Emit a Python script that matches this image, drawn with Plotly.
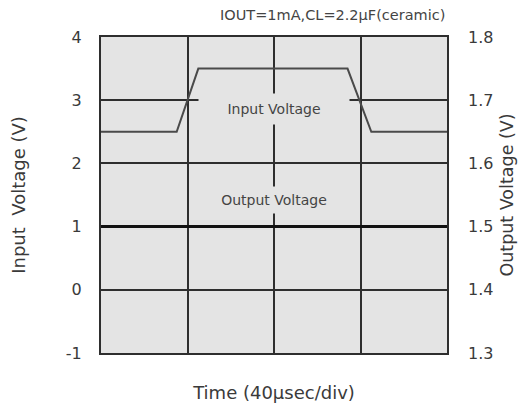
import plotly.graph_objects as go

# Data
time_in_us = [0, 35, 45, 114, 125, 160]
input_voltage = [2.5, 2.5, 3.5, 3.5, 2.5, 2.5]
time_out_us = [0, 160]
output_voltage = [1.5, 1.5]

x_ticks = [0, 40, 80, 120, 160]
y_left_ticks = [-1, 0, 1, 2, 3, 4]
y_left_labels = ["-1", "0", "1", "2", "3", "4"]
y_right_ticks = [1.3, 1.4, 1.5, 1.6, 1.7, 1.8]
y_right_labels = ["1.3", "1.4", "1.5", "1.6", "1.7", "1.8"]

FONT = "DejaVu Sans, Liberation Sans, Arial, sans-serif"
TXT = "#3a3a3a"
GRID = "#2e2e2e"
BG = "#e4e4e4"

fig = go.Figure()
fig.add_trace(go.Scatter(x=time_in_us, y=input_voltage, mode="lines",
                         line=dict(color="#4a4a4a", width=2), yaxis="y",
                         showlegend=False, hoverinfo="skip"))
fig.add_trace(go.Scatter(x=time_out_us, y=output_voltage, mode="lines",
                         line=dict(color="#111111", width=3), yaxis="y2",
                         showlegend=False, hoverinfo="skip"))

fig.update_layout(
    width=519, height=400,
    margin=dict(l=93, r=80, t=29, b=55),
    paper_bgcolor="white",
    plot_bgcolor=BG,
    font=dict(family=FONT, color=TXT, size=14),
    xaxis=dict(range=[0, 160], tickvals=x_ticks, showticklabels=False,
               showgrid=True, gridcolor=GRID, gridwidth=1.5,
               showline=True, linecolor=GRID, linewidth=2, mirror=True,
               zeroline=False, automargin=False,
               title=dict(text="Time (40\u03bcsec/div)", font=dict(size=18), standoff=32)),
    yaxis=dict(range=[-1, 4], tickvals=y_left_ticks, ticktext=y_left_labels,
               showgrid=True, gridcolor=GRID, gridwidth=1.5,
               showline=True, linecolor=GRID, linewidth=2, mirror=True,
               zeroline=False, ticklabelstandoff=14, automargin=False,
               tickfont=dict(size=16),
               title=dict(text="Input  Voltage (V)", font=dict(size=18), standoff=40)),
    yaxis2=dict(range=[1.3, 1.8], tickvals=y_right_ticks, ticktext=y_right_labels,
                overlaying="y", side="right", showgrid=False, zeroline=False,
                ticklabelstandoff=20, tickfont=dict(size=16), automargin=False,
                title=dict(text="Output Voltage (V)", font=dict(size=17.5), standoff=8)),
)

fig.add_annotation(x=80, y=2.91, xref="x", yref="y", text="Input Voltage",
                   showarrow=False, font=dict(size=14, color="#444444"),
                   bgcolor=BG, width=146, height=26, borderpad=2, yshift=-3)
fig.add_annotation(x=80, y=1.42, xref="x", yref="y", text="Output Voltage",
                   showarrow=False, font=dict(size=14, color="#444444"),
                   bgcolor=BG, width=120, height=22, borderpad=2)
fig.add_annotation(x=1, y=1, xref="paper", yref="paper", xanchor="right", yanchor="bottom",
                   yshift=12, text="IOUT=1mA,CL=2.2\u03bcF(ceramic)", showarrow=False,
                   font=dict(size=14.5, color="#444444"))

fig.write_html("out.html")
